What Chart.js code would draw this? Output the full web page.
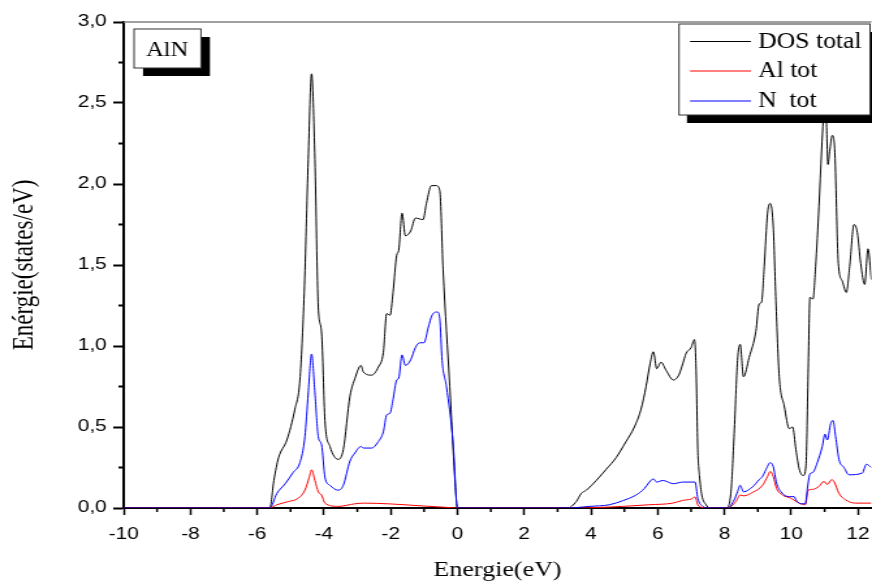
<!DOCTYPE html>
<html>
<head>
<meta charset="utf-8">
<title>AlN DOS</title>
<script src="https://cdn.jsdelivr.net/npm/chart.js@4.4.1/dist/chart.umd.min.js"></script>
<style>
  html, body { margin: 0; padding: 0; background: #fff; overflow: hidden; }
  /* the original figure is stretched sideways, so the chart is drawn 670 wide and widened to 872 */
  #wrap { position: absolute; left: 0; top: 0; width: 670px; height: 585px;
          transform: scaleX(1.30149); transform-origin: 0 0; }
</style>
</head>
<body>
<div id="wrap"><canvas id="chart"></canvas></div>
<script>
// total DOS
const totalE = [-10, -5.62, -5.5, -5.36, -5.11, -4.87, -4.72, -4.59, -4.47, -4.37, -4.27, -4.17, -4.07, -3.97, -3.82, -3.57, -3.42, -3.22, -3.07, -2.89, -2.82, -2.57, -2.37, -2.22, -2.12, -2.02, -1.93, -1.82, -1.76, -1.66, -1.56, -1.40, -1.26, -1.03, -0.93, -0.78, -0.63, -0.53, -0.43, -0.23, -0.08, 0,
  3.30, 3.56, 3.71, 3.86, 4.16, 4.46, 4.75, 5.05, 5.30, 5.50, 5.65, 5.77, 5.87, 5.97, 6.10, 6.25, 6.47, 6.63, 6.75, 6.85, 7.00, 7.10, 7.15, 7.20, 7.25, 7.32, 7.45, 7.55,
  8.05, 8.19, 8.29, 8.39, 8.47, 8.57, 8.74, 8.94, 9.04, 9.11, 9.19, 9.29, 9.37, 9.46, 9.54, 9.64, 9.79, 9.94, 10.04, 10.14, 10.24, 10.36, 10.44, 10.51, 10.56, 10.65, 10.73, 10.83, 10.91, 10.96, 11.0, 11.05, 11.1, 11.15, 11.23, 11.3, 11.41, 11.53, 11.65, 11.75, 11.88, 11.98, 12.08, 12.20, 12.30, 12.40];
const totalDos = [0, 0, 0.17, 0.31, 0.42, 0.61, 0.79, 1.33, 2.15, 2.68, 2.15, 1.24, 1.08, 0.54, 0.38, 0.30, 0.36, 0.69, 0.80, 0.88, 0.84, 0.82, 0.87, 0.96, 1.20, 1.19, 1.33, 1.56, 1.59, 1.82, 1.68, 1.71, 1.79, 1.78, 1.88, 1.99, 1.99, 1.96, 1.47, 0.75, 0.19, 0,
  0, 0.04, 0.09, 0.11, 0.17, 0.24, 0.31, 0.41, 0.50, 0.61, 0.75, 0.89, 0.965, 0.86, 0.90, 0.85, 0.79, 0.82, 0.89, 0.955, 0.99, 1.04, 0.85, 0.36, 0.20, 0.08, 0.02, 0,
  0, 0.09, 0.46, 0.91, 1.01, 0.81, 0.93, 1.09, 1.26, 1.27, 1.49, 1.82, 1.88, 1.74, 1.28, 0.81, 0.63, 0.49, 0.50, 0.36, 0.24, 0.20, 0.26, 0.87, 1.30, 1.29, 1.49, 1.86, 2.21, 2.40, 2.52, 2.40, 2.12, 2.20, 2.30, 2.22, 1.51, 1.40, 1.33, 1.49, 1.75, 1.70, 1.51, 1.38, 1.60, 1.41];

// Al partial DOS
const alE = [-10, -5.62, -5.41, -5.06, -4.77, -4.57, -4.44, -4.37, -4.27, -4.17, -4.07, -3.97, -3.57, -3.07, -2.8, -2.0, -1.0, -0.4, 0,
  3.5, 4.95, 5.75, 6.45, 6.75, 7.00, 7.12, 7.20, 7.30, 7.45,
  8.09, 8.34, 8.47, 8.57, 8.84, 9.14, 9.29, 9.37, 9.46, 9.56, 9.74, 9.99, 10.24, 10.42, 10.51, 10.64, 10.83, 10.98, 11.08, 11.21, 11.28, 11.43, 11.63, 11.93, 12.40];
const alDos = [0, 0, 0.02, 0.04, 0.06, 0.11, 0.19, 0.236, 0.17, 0.10, 0.08, 0.03, 0.01, 0.026, 0.03, 0.025, 0.012, 0.005, 0,
  0, 0.01, 0.02, 0.03, 0.047, 0.055, 0.068, 0.02, 0.005, 0,
  0, 0.04, 0.08, 0.075, 0.096, 0.14, 0.195, 0.226, 0.195, 0.12, 0.08, 0.06, 0.03, 0.02, 0.11, 0.115, 0.133, 0.164, 0.145, 0.175, 0.164, 0.09, 0.05, 0.03, 0.03];

// N partial DOS
const nE = [-10, -5.62, -5.41, -5.16, -4.92, -4.72, -4.57, -4.47, -4.37, -4.27, -4.17, -4.07, -3.97, -3.82, -3.57, -3.42, -3.22, -3.07, -2.89, -2.82, -2.57, -2.37, -2.22, -2.12, -2.02, -1.93, -1.82, -1.76, -1.66, -1.56, -1.40, -1.26, -1.13, -1.00, -0.88, -0.76, -0.60, -0.53, -0.46, -0.33, -0.13, 0,
  3.3, 3.96, 4.55, 4.95, 5.35, 5.60, 5.75, 5.87, 5.97, 6.15, 6.47, 6.75, 7.00, 7.12, 7.20, 7.35, 7.5,
  8.09, 8.29, 8.39, 8.47, 8.57, 8.84, 9.04, 9.14, 9.24, 9.37, 9.46, 9.56, 9.69, 9.94, 10.09, 10.14, 10.29, 10.42, 10.49, 10.56, 10.65, 10.78, 10.93, 11.01, 11.08, 11.18, 11.25, 11.33, 11.43, 11.58, 11.73, 12.13, 12.25, 12.40];
const nDos = [0, 0, 0.09, 0.15, 0.22, 0.28, 0.44, 0.71, 0.95, 0.71, 0.44, 0.39, 0.19, 0.14, 0.11, 0.14, 0.29, 0.34, 0.38, 0.37, 0.37, 0.41, 0.47, 0.575, 0.585, 0.67, 0.79, 0.80, 0.945, 0.88, 0.915, 0.99, 1.02, 1.02, 1.11, 1.19, 1.21, 1.17, 0.91, 0.75, 0.40, 0,
  0, 0.01, 0.02, 0.045, 0.08, 0.12, 0.16, 0.18, 0.16, 0.17, 0.15, 0.16, 0.16, 0.16, 0.06, 0.01, 0,
  0, 0.05, 0.10, 0.14, 0.10, 0.13, 0.175, 0.195, 0.236, 0.28, 0.256, 0.154, 0.10, 0.07, 0.07, 0.05, 0.026, 0.026, 0.13, 0.21, 0.22, 0.28, 0.38, 0.456, 0.42, 0.52, 0.54, 0.44, 0.30, 0.25, 0.205, 0.216, 0.27, 0.25];

const minorX = [-9, -7, -5, -3, -1, 1, 3, 5, 7, 9, 11];
const minorY = [0.25, 0.75, 1.25, 1.75, 2.25, 2.75];

const toPoints = (xs, ys) => xs.map((x, i) => ({ x: x, y: ys[i] }));

// draw text squeezed back a little, the boxed labels are narrower than the axis text
function narrowText(ctx, text, x, y, squeeze) {
  ctx.save();
  ctx.translate(x, y);
  ctx.scale(squeeze, 1);
  ctx.fillText(text, 0, 0);
  ctx.restore();
}

function shadowBox(ctx, l, t, r, b, dx, dy) {
  ctx.fillStyle = '#000';
  ctx.fillRect(l + dx, t + dy, r - l, b - t);
  ctx.fillStyle = '#fff';
  ctx.fillRect(l, t, r - l, b - t);
  ctx.strokeStyle = '#333';
  ctx.lineWidth = 1;
  ctx.strokeRect(l, t, r - l, b - t);
}

const decorations = {
  id: 'decorations',
  afterDraw(chart) {
    const { ctx, chartArea: a, scales: { x, y } } = chart;
    ctx.save();

    // top frame line
    ctx.strokeStyle = '#808080';
    ctx.lineWidth = 1.5;
    ctx.beginPath();
    ctx.moveTo(a.left, a.top);
    ctx.lineTo(a.right, a.top);
    ctx.stroke();

    // minor ticks
    ctx.strokeStyle = '#000';
    ctx.lineWidth = 1.5;
    ctx.beginPath();
    minorX.forEach(v => {
      const px = x.getPixelForValue(v);
      ctx.moveTo(px, a.bottom);
      ctx.lineTo(px, a.bottom + 4);
    });
    ctx.stroke();
    ctx.lineWidth = 2;
    ctx.beginPath();
    minorY.forEach(v => {
      const py = y.getPixelForValue(v);
      ctx.moveTo(a.left, py);
      ctx.lineTo(a.left - 4, py);
    });
    ctx.stroke();

    // AlN label
    shadowBox(ctx, 103, 29, 154.4, 68, 6.9, 8);
    ctx.fillStyle = '#000';
    ctx.font = '22px "Liberation Serif"';
    ctx.textBaseline = 'middle';
    narrowText(ctx, 'AlN', 112.2, 50, 0.86);

    // legend
    shadowBox(ctx, 521.7, 24, 668.5, 115, 6.1, 8);
    ctx.font = '23px "Liberation Serif"';
    const rows = [41.5, 71, 101];
    chart.data.datasets.forEach((ds, i) => {
      ctx.strokeStyle = ds.borderColor;
      ctx.lineWidth = 1;
      ctx.beginPath();
      ctx.moveTo(530.2, rows[i]);
      ctx.lineTo(577, rows[i]);
      ctx.stroke();
      ctx.fillStyle = '#000';
      narrowText(ctx, ds.label, 582.4, rows[i], 0.86);
    });

    ctx.restore();
  }
};

const tickFont = { family: 'Liberation Sans', size: 16 };

new Chart(document.getElementById('chart'), {
  type: 'line',
  data: {
    datasets: [{
      label: 'DOS total',
      data: toPoints(totalE, totalDos),
      borderColor: '#000000',
      order: 3
    }, {
      label: 'Al tot',
      data: toPoints(alE, alDos),
      borderColor: '#ff0000',
      order: 2
    }, {
      label: 'N  tot',
      data: toPoints(nE, nDos),
      borderColor: '#0000ff',
      order: 1
    }]
  },
  options: {
    responsive: true,
    maintainAspectRatio: false,
    animation: false,
    layout: { padding: { top: 22, right: 0, bottom: 0, left: 0 } },
    elements: {
      line: { borderWidth: 1, cubicInterpolationMode: 'monotone', fill: false },
      point: { radius: 0 }
    },
    plugins: {
      legend: { display: false },
      tooltip: { enabled: false }
    },
    scales: {
      x: {
        type: 'linear',
        min: -10,
        max: 12.4,
        ticks: {
          stepSize: 2,
          includeBounds: false,
          autoSkip: false,
          maxRotation: 0,
          padding: 10,
          color: '#000',
          font: tickFont,
          callback: v => String(v)
        },
        grid: { drawOnChartArea: false, tickLength: 7, tickWidth: 1.5, tickColor: '#000' },
        border: { color: '#000', width: 2 },
        title: {
          display: true,
          text: 'Energie(eV)',
          color: '#000',
          font: { family: 'Liberation Serif', size: 20 },
          padding: { top: 0, bottom: 2 }
        },
        afterFit(scale) {
          scale.height = 77;
          // the plot runs right up to the window edge, no room kept for end labels
          scale.paddingLeft = 0;
          scale.paddingRight = 0;
        }
      },
      y: {
        min: 0,
        max: 3,
        ticks: {
          stepSize: 0.5,
          padding: 5,
          color: '#000',
          font: tickFont,
          callback: v => v.toFixed(1).replace('.', ',')
        },
        grid: { drawOnChartArea: false, tickLength: 8, tickWidth: 2, tickColor: '#000' },
        border: { color: '#000', width: 2 },
        title: {
          display: true,
          text: 'Enérgie(states/eV)',
          color: '#000',
          font: { family: 'Liberation Serif', size: 23 },
          padding: { top: 5, bottom: 0 }
        },
        afterFit(scale) {
          scale.width = 95;
          scale.paddingTop = 0;
          scale.paddingBottom = 0;
        }
      }
    }
  },
  plugins: [decorations]
});
</script>
</body>
</html>
